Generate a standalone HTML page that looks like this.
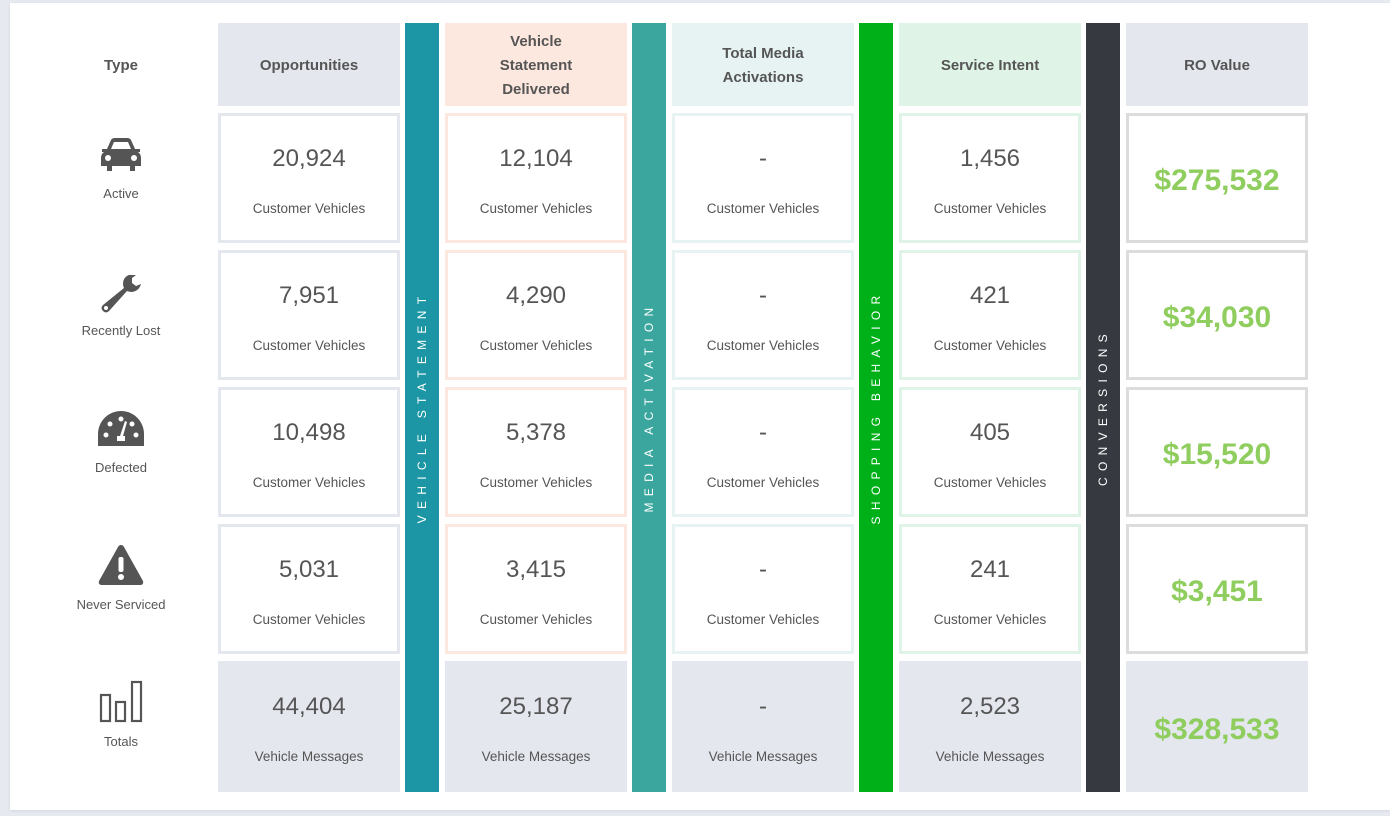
<!DOCTYPE html>
<html><head><meta charset="utf-8"><style>
body{margin:0;width:1390px;height:816px;background:#e6eaf0;font-family:"Liberation Sans",sans-serif;position:relative;overflow:hidden;color:#555}
.panel{position:absolute;left:10px;top:3px;width:1380px;height:807px;background:#fff;box-shadow:0 1px 3px rgba(0,0,0,.08)}
.a{position:absolute;box-sizing:border-box}
.h{display:flex;align-items:center;justify-content:center;text-align:center;font-weight:bold;font-size:15px;line-height:24px;color:#555;padding-top:3px}
.c{border:3px solid;background:#fff;text-align:center}
.n{position:absolute;left:0;right:0;top:31px;font-size:24px;line-height:30px;color:#555}
.s{position:absolute;left:0;right:0;top:86px;font-size:13.5px;line-height:20px;color:#555}
.c .n{top:28px}.c .s{top:83px}
.ro{display:flex;align-items:center;justify-content:center;font-weight:bold;font-size:30px;color:#8fce5e;padding-top:6px}
.bar{top:23px;width:34px;height:769px}
.vt{position:absolute;left:50%;top:387px;transform:translate(-50%,-50%) rotate(-90deg);white-space:nowrap;color:#fff;font-size:12px;letter-spacing:6.3px;padding-left:6px}
.t{position:absolute;left:30px;width:182px;text-align:center;font-size:13px;color:#555}
</style></head><body>
<div class="panel"></div>
<div class="a h" style="left:30px;top:23px;width:182px;height:83px">Type</div>
<div class="a h" style="left:218px;top:23px;width:182px;height:83px;background:#e4e7ee">Opportunities</div>
<div class="a h" style="left:445px;top:23px;width:182px;height:83px;background:#fde8e0">Vehicle<br>Statement<br>Delivered</div>
<div class="a h" style="left:672px;top:23px;width:182px;height:83px;background:#e6f3f2">Total Media<br>Activations</div>
<div class="a h" style="left:899px;top:23px;width:182px;height:83px;background:#dff3e7">Service Intent</div>
<div class="a h" style="left:1126px;top:23px;width:182px;height:83px;background:#e4e7ee">RO Value</div>

<div class="a bar" style="left:405px;background:#1c96a4"><span class="vt">VEHICLE STATEMENT</span></div>
<div class="a bar" style="left:632px;background:#3aa69e"><span class="vt">MEDIA ACTIVATION</span></div>
<div class="a bar" style="left:859px;background:#00b019"><span class="vt">SHOPPING BEHAVIOR</span></div>
<div class="a bar" style="left:1086px;background:#363a40"><span class="vt">CONVERSIONS</span></div>

<svg class="a" style="left:99px;top:137px" width="44" height="36" viewBox="0 0 44 36"><path d="M8 12 L12 3 Q13 1 16 1 L28 1 Q31 1 32 3 L36 12 L41 12 L41 15 L39 15 Q42 17 42 21 L42 29 L36 29 L36 34 L31 34 L31 29 L13 29 L13 34 L8 34 L8 29 L2 29 L2 21 Q2 17 5 15 L3 15 L3 12Z" fill="#555"/><path d="M12 12 L15 5 L29 5 L32 12Z" fill="#fff"/><circle cx="9" cy="21" r="3" fill="#fff"/><circle cx="35" cy="21" r="3" fill="#fff"/></svg>
<div class="t" style="top:186px">Active</div>
<svg class="a" style="left:99px;top:273px" width="44" height="40" viewBox="0 0 44 40"><path d="M30 2 Q24 4 24 11 Q24 13 25 15 L4 32 Q1 35 4 38 Q7 41 10 38 L28 18 Q30 19 33 19 Q40 18 42 11 L37 13 L33 10 L33 5 L37 2Z" fill="#555"/><circle cx="7" cy="35" r="2" fill="#fff"/></svg>
<div class="t" style="top:323px">Recently Lost</div>
<svg class="a" style="left:97px;top:409px" width="48" height="38" viewBox="0 0 48 38"><path d="M1 37 L1 25 A23 23 0 0 1 47 25 L47 37Z" fill="#555"/><circle cx="9" cy="26" r="2.5" fill="#fff"/><circle cx="13" cy="15" r="2.5" fill="#fff"/><circle cx="24" cy="10" r="2.5" fill="#fff"/><circle cx="35" cy="15" r="2.5" fill="#fff"/><circle cx="39" cy="26" r="2.5" fill="#fff"/><path d="M28 12 L30 13 L26 27 L28 27 L28 32 L20 32 L20 27 L23 27Z" fill="#fff"/></svg>
<div class="t" style="top:460px">Defected</div>
<svg class="a" style="left:97px;top:543px" width="48" height="44" viewBox="0 0 48 44"><path d="M24 2 Q26 2 27 4 L46 38 Q47 42 43 42 L5 42 Q1 42 2 38 L21 4 Q22 2 24 2Z" fill="#555"/><rect x="21.5" y="14" width="5" height="15" rx="2" fill="#fff"/><circle cx="24" cy="34" r="3" fill="#fff"/></svg>
<div class="t" style="top:597px">Never Serviced</div>
<svg class="a" style="left:99px;top:680px" width="44" height="44" viewBox="0 0 44 44"><g fill="none" stroke="#555" stroke-width="2.2"><rect x="2" y="15" width="9" height="26"/><rect x="17" y="22" width="9" height="19"/><rect x="33" y="2" width="9" height="39"/></g></svg>
<div class="t" style="top:734px">Totals</div>

<div class="a c" style="left:218px;top:113px;width:182px;height:130px;border-color:#e4e7ee"><div class="n">20,924</div><div class="s">Customer Vehicles</div></div>
<div class="a c" style="left:218px;top:250px;width:182px;height:130px;border-color:#e4e7ee"><div class="n">7,951</div><div class="s">Customer Vehicles</div></div>
<div class="a c" style="left:218px;top:387px;width:182px;height:130px;border-color:#e4e7ee"><div class="n">10,498</div><div class="s">Customer Vehicles</div></div>
<div class="a c" style="left:218px;top:524px;width:182px;height:130px;border-color:#e4e7ee"><div class="n">5,031</div><div class="s">Customer Vehicles</div></div>
<div class="a" style="left:218px;top:661px;width:182px;height:131px;background:#e4e7ee;text-align:center"><div class="n">44,404</div><div class="s">Vehicle Messages</div></div>

<div class="a c" style="left:445px;top:113px;width:182px;height:130px;border-color:#fde8e0"><div class="n">12,104</div><div class="s">Customer Vehicles</div></div>
<div class="a c" style="left:445px;top:250px;width:182px;height:130px;border-color:#fde8e0"><div class="n">4,290</div><div class="s">Customer Vehicles</div></div>
<div class="a c" style="left:445px;top:387px;width:182px;height:130px;border-color:#fde8e0"><div class="n">5,378</div><div class="s">Customer Vehicles</div></div>
<div class="a c" style="left:445px;top:524px;width:182px;height:130px;border-color:#fde8e0"><div class="n">3,415</div><div class="s">Customer Vehicles</div></div>
<div class="a" style="left:445px;top:661px;width:182px;height:131px;background:#e4e7ee;text-align:center"><div class="n">25,187</div><div class="s">Vehicle Messages</div></div>

<div class="a c" style="left:672px;top:113px;width:182px;height:130px;border-color:#e6f3f2"><div class="n">-</div><div class="s">Customer Vehicles</div></div>
<div class="a c" style="left:672px;top:250px;width:182px;height:130px;border-color:#e6f3f2"><div class="n">-</div><div class="s">Customer Vehicles</div></div>
<div class="a c" style="left:672px;top:387px;width:182px;height:130px;border-color:#e6f3f2"><div class="n">-</div><div class="s">Customer Vehicles</div></div>
<div class="a c" style="left:672px;top:524px;width:182px;height:130px;border-color:#e6f3f2"><div class="n">-</div><div class="s">Customer Vehicles</div></div>
<div class="a" style="left:672px;top:661px;width:182px;height:131px;background:#e4e7ee;text-align:center"><div class="n">-</div><div class="s">Vehicle Messages</div></div>

<div class="a c" style="left:899px;top:113px;width:182px;height:130px;border-color:#dff3e7"><div class="n">1,456</div><div class="s">Customer Vehicles</div></div>
<div class="a c" style="left:899px;top:250px;width:182px;height:130px;border-color:#dff3e7"><div class="n">421</div><div class="s">Customer Vehicles</div></div>
<div class="a c" style="left:899px;top:387px;width:182px;height:130px;border-color:#dff3e7"><div class="n">405</div><div class="s">Customer Vehicles</div></div>
<div class="a c" style="left:899px;top:524px;width:182px;height:130px;border-color:#dff3e7"><div class="n">241</div><div class="s">Customer Vehicles</div></div>
<div class="a" style="left:899px;top:661px;width:182px;height:131px;background:#e4e7ee;text-align:center"><div class="n">2,523</div><div class="s">Vehicle Messages</div></div>

<div class="a c ro" style="left:1126px;top:113px;width:182px;height:130px;border-color:#dcdcdc">$275,532</div>
<div class="a c ro" style="left:1126px;top:250px;width:182px;height:130px;border-color:#dcdcdc">$34,030</div>
<div class="a c ro" style="left:1126px;top:387px;width:182px;height:130px;border-color:#dcdcdc">$15,520</div>
<div class="a c ro" style="left:1126px;top:524px;width:182px;height:130px;border-color:#dcdcdc">$3,451</div>
<div class="a ro" style="left:1126px;top:661px;width:182px;height:131px;background:#e4e7ee">$328,533</div>
</body></html>
